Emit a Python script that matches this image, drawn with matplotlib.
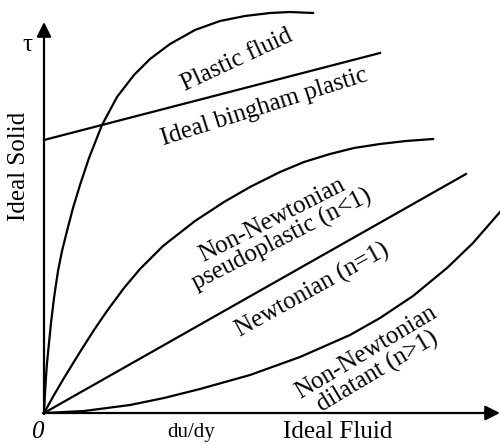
import numpy as np
import matplotlib.pyplot as plt

# curves (units: pixels from the origin, y up)
plastic_x = [0, 1, 2, 3, 5, 7, 10, 14, 18, 23, 29, 36, 45, 58, 73, 90, 106, 126, 151, 176, 201, 226, 246, 269]
plastic_y = [0, 20, 36, 50, 70, 90, 115, 142, 162, 182, 205, 228, 255, 288, 316, 338, 354, 369, 383, 392, 397, 400, 401, 400]

bingham_x = [0, 336]
bingham_y = [273, 360]

pseudo_x = [0, 10, 20, 36, 50, 63, 80, 96, 119, 151, 180, 206, 236, 260, 286, 310, 336, 362, 389]
pseudo_y = [0, 18, 35, 61, 83, 102, 125, 144, 167, 192, 211, 226, 241, 251, 259, 265, 269, 272, 274]

newton_x = [0, 422]
newton_y = [0, 239]

dilatant_x = [0, 40, 86, 120, 156, 206, 256, 306, 336, 369, 403, 429, 456]
dilatant_y = [0, 2, 8, 15, 24, 38, 56, 78, 95, 117, 145, 170, 201]

plt.rcParams['font.family'] = 'Liberation Serif'

fig = plt.figure(figsize=(5, 4.43), dpi=100)
ax = fig.add_axes([0, 0, 1, 1])
ax.set_xlim(-44, 456)
ax.set_ylim(-30, 413)
ax.axis('off')

lw = 1.6
for xs, ys in [(plastic_x, plastic_y), (bingham_x, bingham_y), (pseudo_x, pseudo_y),
               (newton_x, newton_y), (dilatant_x, dilatant_y)]:
    ax.plot(xs, ys, color='black', lw=lw, solid_joinstyle='round')

# axes with arrow heads
arrow = dict(arrowstyle='-|>', lw=lw, color='black', mutation_scale=22, shrinkA=0, shrinkB=0)
ax.annotate('', xy=(0, 391), xytext=(0, -1), arrowprops=arrow)
ax.annotate('', xy=(456, 0), xytext=(-1, 0), arrowprops=arrow)

fs = 18
ax.text(-17, 368, 'τ', fontsize=fs, ha='center', va='center')
ax.text(-25, 247, 'Ideal Solid', fontsize=fs, rotation=90, ha='center', va='center')
ax.text(-7, -19, '0', fontsize=fs, style='italic', ha='center', va='center')
ax.text(147, -20, 'du/dy', fontsize=15, ha='center', va='center')
ax.text(294, -19, 'Ideal Fluid', fontsize=fs, ha='center', va='center')

ax.text(193, 353, 'Plastic fluid', fontsize=fs, rotation=25, rotation_mode='anchor', ha='center', va='center')
ax.text(220, 306, 'Ideal bingham plastic', fontsize=fs, rotation=17.5, rotation_mode='anchor',
        ha='center', va='center')
ax.text(233, 183, 'Non-Newtonian\npseudoplastic (n<1)', fontsize=fs, rotation=27, rotation_mode='anchor',
        ha='center', va='center', linespacing=1.0)
ax.text(269, 123, 'Newtonian (n=1)', fontsize=fs, rotation=29, rotation_mode='anchor',
        ha='center', va='center')
ax.text(328, 51, 'Non-Newtonian\ndilatant (n>1)', fontsize=fs, rotation=31, rotation_mode='anchor',
        ha='center', va='center', linespacing=1.0)

fig.savefig('out.png', dpi=100)
